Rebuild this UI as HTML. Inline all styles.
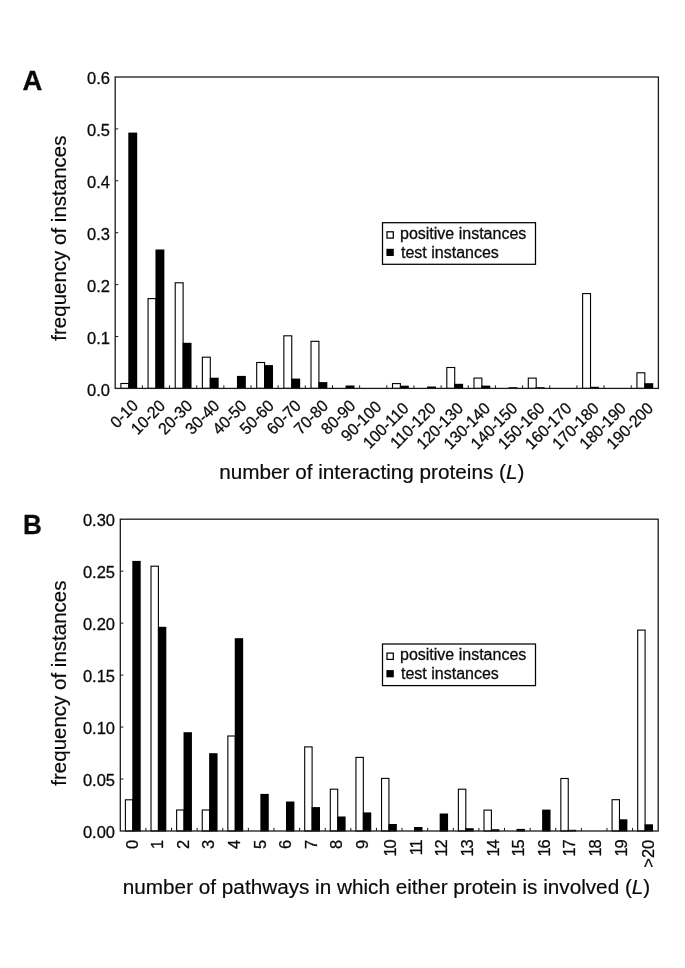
<!DOCTYPE html>
<html><head><meta charset="utf-8"><title>Figure</title>
<style>
html,body{margin:0;padding:0;background:#fff;}
body{width:685px;height:968px;overflow:hidden;font-family:"Liberation Sans",sans-serif;}
svg{display:block;font-family:"Liberation Sans",sans-serif;will-change:transform;}
text{fill:#0a0a0a;stroke:#0a0a0a;stroke-width:0.28px;}
</style></head><body>
<svg width="685" height="968" viewBox="0 0 685 968">
<rect x="0" y="0" width="685" height="968" fill="#ffffff"/>

<rect x="120.9" y="383.5" width="7.9" height="4.9" fill="#fff" stroke="#000" stroke-width="1.1"/>
<rect x="128.3" y="132.6" width="8.9" height="256.3" fill="#000"/>
<rect x="148.06" y="298.6" width="7.9" height="89.8" fill="#fff" stroke="#000" stroke-width="1.1"/>
<rect x="155.46" y="249.5" width="8.9" height="139.4" fill="#000"/>
<rect x="175.22" y="282.8" width="7.9" height="105.6" fill="#fff" stroke="#000" stroke-width="1.1"/>
<rect x="182.62" y="342.8" width="8.9" height="46.1" fill="#000"/>
<rect x="202.38" y="357.2" width="7.9" height="31.2" fill="#fff" stroke="#000" stroke-width="1.1"/>
<rect x="209.78" y="377.7" width="8.9" height="11.2" fill="#000"/>
<rect x="236.94" y="375.9" width="8.9" height="13" fill="#000"/>
<rect x="256.7" y="362.5" width="7.9" height="25.9" fill="#fff" stroke="#000" stroke-width="1.1"/>
<rect x="264.1" y="365.1" width="8.9" height="23.8" fill="#000"/>
<rect x="283.86" y="335.8" width="7.9" height="52.6" fill="#fff" stroke="#000" stroke-width="1.1"/>
<rect x="291.26" y="378.6" width="8.9" height="10.3" fill="#000"/>
<rect x="311.02" y="341.3" width="7.9" height="47.1" fill="#fff" stroke="#000" stroke-width="1.1"/>
<rect x="318.42" y="382.1" width="8.9" height="6.8" fill="#000"/>
<rect x="345.58" y="385.5" width="8.9" height="3.4" fill="#000"/>
<rect x="392.5" y="383.6" width="7.9" height="4.8" fill="#fff" stroke="#000" stroke-width="1.1"/>
<rect x="399.9" y="385.7" width="8.9" height="3.2" fill="#000"/>
<rect x="427.06" y="386.5" width="8.9" height="2.4" fill="#000"/>
<rect x="446.82" y="367.5" width="7.9" height="20.9" fill="#fff" stroke="#000" stroke-width="1.1"/>
<rect x="454.22" y="383.8" width="8.9" height="5.1" fill="#000"/>
<rect x="473.98" y="378.1" width="7.9" height="10.3" fill="#fff" stroke="#000" stroke-width="1.1"/>
<rect x="481.38" y="385.6" width="8.9" height="3.3" fill="#000"/>
<rect x="508.54" y="387.2" width="8.9" height="1.7" fill="#000"/>
<rect x="528.3" y="378.1" width="7.9" height="10.3" fill="#fff" stroke="#000" stroke-width="1.1"/>
<rect x="535.7" y="387.2" width="8.9" height="1.7" fill="#000"/>
<rect x="582.62" y="293.6" width="7.9" height="94.8" fill="#fff" stroke="#000" stroke-width="1.1"/>
<rect x="590.02" y="386.8" width="8.9" height="2.1" fill="#000"/>
<rect x="636.94" y="372.8" width="7.9" height="15.6" fill="#fff" stroke="#000" stroke-width="1.1"/>
<rect x="644.34" y="383.2" width="8.9" height="5.7" fill="#000"/>
<rect x="115.2" y="77" width="543.2" height="311.4" fill="none" stroke="#1a1a1a" stroke-width="1.3"/>
<text x="109.9" y="395.5" font-size="16.5" text-anchor="end">0.0</text>
<line x1="115.2" y1="336.5" x2="118.3" y2="336.5" stroke="#1a1a1a" stroke-width="1"/>
<text x="109.9" y="343.6" font-size="16.5" text-anchor="end">0.1</text>
<line x1="115.2" y1="284.6" x2="118.3" y2="284.6" stroke="#1a1a1a" stroke-width="1"/>
<text x="109.9" y="291.7" font-size="16.5" text-anchor="end">0.2</text>
<line x1="115.2" y1="232.7" x2="118.3" y2="232.7" stroke="#1a1a1a" stroke-width="1"/>
<text x="109.9" y="239.8" font-size="16.5" text-anchor="end">0.3</text>
<line x1="115.2" y1="180.8" x2="118.3" y2="180.8" stroke="#1a1a1a" stroke-width="1"/>
<text x="109.9" y="187.9" font-size="16.5" text-anchor="end">0.4</text>
<line x1="115.2" y1="128.9" x2="118.3" y2="128.9" stroke="#1a1a1a" stroke-width="1"/>
<text x="109.9" y="136" font-size="16.5" text-anchor="end">0.5</text>
<text x="109.9" y="84.1" font-size="16.5" text-anchor="end">0.6</text>
<line x1="142.36" y1="388.4" x2="142.36" y2="385.3" stroke="#1a1a1a" stroke-width="1"/>
<line x1="169.52" y1="388.4" x2="169.52" y2="385.3" stroke="#1a1a1a" stroke-width="1"/>
<line x1="196.68" y1="388.4" x2="196.68" y2="385.3" stroke="#1a1a1a" stroke-width="1"/>
<line x1="223.84" y1="388.4" x2="223.84" y2="385.3" stroke="#1a1a1a" stroke-width="1"/>
<line x1="251" y1="388.4" x2="251" y2="385.3" stroke="#1a1a1a" stroke-width="1"/>
<line x1="278.16" y1="388.4" x2="278.16" y2="385.3" stroke="#1a1a1a" stroke-width="1"/>
<line x1="305.32" y1="388.4" x2="305.32" y2="385.3" stroke="#1a1a1a" stroke-width="1"/>
<line x1="332.48" y1="388.4" x2="332.48" y2="385.3" stroke="#1a1a1a" stroke-width="1"/>
<line x1="359.64" y1="388.4" x2="359.64" y2="385.3" stroke="#1a1a1a" stroke-width="1"/>
<line x1="386.8" y1="388.4" x2="386.8" y2="385.3" stroke="#1a1a1a" stroke-width="1"/>
<line x1="413.96" y1="388.4" x2="413.96" y2="385.3" stroke="#1a1a1a" stroke-width="1"/>
<line x1="441.12" y1="388.4" x2="441.12" y2="385.3" stroke="#1a1a1a" stroke-width="1"/>
<line x1="468.28" y1="388.4" x2="468.28" y2="385.3" stroke="#1a1a1a" stroke-width="1"/>
<line x1="495.44" y1="388.4" x2="495.44" y2="385.3" stroke="#1a1a1a" stroke-width="1"/>
<line x1="522.6" y1="388.4" x2="522.6" y2="385.3" stroke="#1a1a1a" stroke-width="1"/>
<line x1="549.76" y1="388.4" x2="549.76" y2="385.3" stroke="#1a1a1a" stroke-width="1"/>
<line x1="576.92" y1="388.4" x2="576.92" y2="385.3" stroke="#1a1a1a" stroke-width="1"/>
<line x1="604.08" y1="388.4" x2="604.08" y2="385.3" stroke="#1a1a1a" stroke-width="1"/>
<line x1="631.24" y1="388.4" x2="631.24" y2="385.3" stroke="#1a1a1a" stroke-width="1"/>
<text transform="translate(139.18 406.6) rotate(-45) scale(0.955 1)" font-size="16.5" text-anchor="end">0-10</text>
<text transform="translate(166.24 406.9) rotate(-45) scale(0.955 1)" font-size="16.5" text-anchor="end">10-20</text>
<text transform="translate(193.4 406.9) rotate(-45) scale(0.955 1)" font-size="16.5" text-anchor="end">20-30</text>
<text transform="translate(220.56 406.9) rotate(-45) scale(0.955 1)" font-size="16.5" text-anchor="end">30-40</text>
<text transform="translate(247.72 406.9) rotate(-45) scale(0.955 1)" font-size="16.5" text-anchor="end">40-50</text>
<text transform="translate(274.88 406.9) rotate(-45) scale(0.955 1)" font-size="16.5" text-anchor="end">50-60</text>
<text transform="translate(302.04 406.9) rotate(-45) scale(0.955 1)" font-size="16.5" text-anchor="end">60-70</text>
<text transform="translate(329.2 406.9) rotate(-45) scale(0.955 1)" font-size="16.5" text-anchor="end">70-80</text>
<text transform="translate(356.36 406.9) rotate(-45) scale(0.955 1)" font-size="16.5" text-anchor="end">80-90</text>
<text transform="translate(382.42 407.8) rotate(-45) scale(0.955 1)" font-size="16.5" text-anchor="end">90-100</text>
<text transform="translate(409.78 409.4) rotate(-45) scale(0.955 1)" font-size="16.5" text-anchor="end">100-110</text>
<text transform="translate(436.94 409.4) rotate(-45) scale(0.955 1)" font-size="16.5" text-anchor="end">110-120</text>
<text transform="translate(464.1 409.4) rotate(-45) scale(0.955 1)" font-size="16.5" text-anchor="end">120-130</text>
<text transform="translate(491.26 409.4) rotate(-45) scale(0.955 1)" font-size="16.5" text-anchor="end">130-140</text>
<text transform="translate(518.42 409.4) rotate(-45) scale(0.955 1)" font-size="16.5" text-anchor="end">140-150</text>
<text transform="translate(545.58 409.4) rotate(-45) scale(0.955 1)" font-size="16.5" text-anchor="end">150-160</text>
<text transform="translate(572.74 409.4) rotate(-45) scale(0.955 1)" font-size="16.5" text-anchor="end">160-170</text>
<text transform="translate(599.9 409.4) rotate(-45) scale(0.955 1)" font-size="16.5" text-anchor="end">170-180</text>
<text transform="translate(627.06 409.4) rotate(-45) scale(0.955 1)" font-size="16.5" text-anchor="end">180-190</text>
<text transform="translate(654.22 409.4) rotate(-45) scale(0.955 1)" font-size="16.5" text-anchor="end">190-200</text>
<text transform="translate(22.5 89.8) scale(1.0 1.035)" font-size="27.5" font-weight="bold" fill="#000">A</text>
<text transform="translate(66 238.1) rotate(-90)" font-size="20.5" style="stroke-width:0.18px" text-anchor="middle">frequency of instances</text>
<text x="219.2" y="478.7" font-size="20.72" style="stroke-width:0.18px">number of interacting proteins (<tspan font-style="italic">L</tspan>)</text>
<rect x="382.5" y="222.7" width="153.0" height="41.6" fill="#fff" stroke="#000" stroke-width="1.25"/>
<rect x="387" y="231.8" width="6.3" height="6.3" fill="#fff" stroke="#000" stroke-width="1.25"/>
<rect x="386.4" y="248.8" width="7.4" height="7.2" fill="#000"/>
<text x="400" y="239.1" font-size="16">positive instances</text>
<text x="401" y="257.5" font-size="16">test instances</text>
<rect x="125.4" y="799.8" width="7.4" height="31.2" fill="#fff" stroke="#000" stroke-width="1.1"/>
<rect x="132.3" y="560.9" width="8.4" height="270.6" fill="#000"/>
<rect x="151.01" y="566.2" width="7.4" height="264.8" fill="#fff" stroke="#000" stroke-width="1.1"/>
<rect x="157.91" y="626.8" width="8.4" height="204.7" fill="#000"/>
<rect x="176.63" y="810" width="7.4" height="21" fill="#fff" stroke="#000" stroke-width="1.1"/>
<rect x="183.53" y="732.2" width="8.4" height="99.3" fill="#000"/>
<rect x="202.24" y="810" width="7.4" height="21" fill="#fff" stroke="#000" stroke-width="1.1"/>
<rect x="209.14" y="753.2" width="8.4" height="78.3" fill="#000"/>
<rect x="227.86" y="736" width="7.4" height="95" fill="#fff" stroke="#000" stroke-width="1.1"/>
<rect x="234.76" y="638.2" width="8.4" height="193.3" fill="#000"/>
<rect x="260.37" y="793.9" width="8.4" height="37.6" fill="#000"/>
<rect x="285.99" y="801.5" width="8.4" height="30" fill="#000"/>
<rect x="304.7" y="746.9" width="7.4" height="84.1" fill="#fff" stroke="#000" stroke-width="1.1"/>
<rect x="311.6" y="807.1" width="8.4" height="24.4" fill="#000"/>
<rect x="330.31" y="789.2" width="7.4" height="41.8" fill="#fff" stroke="#000" stroke-width="1.1"/>
<rect x="337.21" y="816.5" width="8.4" height="15" fill="#000"/>
<rect x="355.93" y="757.4" width="7.4" height="73.6" fill="#fff" stroke="#000" stroke-width="1.1"/>
<rect x="362.83" y="812.4" width="8.4" height="19.1" fill="#000"/>
<rect x="381.54" y="778.4" width="7.4" height="52.6" fill="#fff" stroke="#000" stroke-width="1.1"/>
<rect x="388.44" y="824" width="8.4" height="7.5" fill="#000"/>
<rect x="414.06" y="827" width="8.4" height="4.5" fill="#000"/>
<rect x="439.67" y="813.5" width="8.4" height="18" fill="#000"/>
<rect x="458.39" y="789.2" width="7.4" height="41.8" fill="#fff" stroke="#000" stroke-width="1.1"/>
<rect x="465.29" y="828.2" width="8.4" height="3.3" fill="#000"/>
<rect x="484" y="810.1" width="7.4" height="20.9" fill="#fff" stroke="#000" stroke-width="1.1"/>
<rect x="490.9" y="829.2" width="8.4" height="2.3" fill="#000"/>
<rect x="516.51" y="828.9" width="8.4" height="2.6" fill="#000"/>
<rect x="542.13" y="809.6" width="8.4" height="21.9" fill="#000"/>
<rect x="560.84" y="778.5" width="7.4" height="52.5" fill="#fff" stroke="#000" stroke-width="1.1"/>
<rect x="567.74" y="829.8" width="8.4" height="1.7" fill="#000"/>
<rect x="612.07" y="799.7" width="7.4" height="31.3" fill="#fff" stroke="#000" stroke-width="1.1"/>
<rect x="618.97" y="819.3" width="8.4" height="12.2" fill="#000"/>
<rect x="637.69" y="630.1" width="7.4" height="200.9" fill="#fff" stroke="#000" stroke-width="1.1"/>
<rect x="644.59" y="824.3" width="8.4" height="7.2" fill="#000"/>
<rect x="120.3" y="519.2" width="537.9" height="311.8" fill="none" stroke="#1a1a1a" stroke-width="1.3"/>
<text x="115" y="838.1" font-size="16.5" text-anchor="end">0.00</text>
<line x1="120.3" y1="779.03" x2="123.4" y2="779.03" stroke="#1a1a1a" stroke-width="1"/>
<text x="115" y="786.13" font-size="16.5" text-anchor="end">0.05</text>
<line x1="120.3" y1="727.07" x2="123.4" y2="727.07" stroke="#1a1a1a" stroke-width="1"/>
<text x="115" y="734.17" font-size="16.5" text-anchor="end">0.10</text>
<line x1="120.3" y1="675.1" x2="123.4" y2="675.1" stroke="#1a1a1a" stroke-width="1"/>
<text x="115" y="682.2" font-size="16.5" text-anchor="end">0.15</text>
<line x1="120.3" y1="623.13" x2="123.4" y2="623.13" stroke="#1a1a1a" stroke-width="1"/>
<text x="115" y="630.23" font-size="16.5" text-anchor="end">0.20</text>
<line x1="120.3" y1="571.17" x2="123.4" y2="571.17" stroke="#1a1a1a" stroke-width="1"/>
<text x="115" y="578.27" font-size="16.5" text-anchor="end">0.25</text>
<text x="115" y="526.3" font-size="16.5" text-anchor="end">0.30</text>
<line x1="145.91" y1="831" x2="145.91" y2="827.9" stroke="#1a1a1a" stroke-width="1"/>
<line x1="171.53" y1="831" x2="171.53" y2="827.9" stroke="#1a1a1a" stroke-width="1"/>
<line x1="197.14" y1="831" x2="197.14" y2="827.9" stroke="#1a1a1a" stroke-width="1"/>
<line x1="222.76" y1="831" x2="222.76" y2="827.9" stroke="#1a1a1a" stroke-width="1"/>
<line x1="248.37" y1="831" x2="248.37" y2="827.9" stroke="#1a1a1a" stroke-width="1"/>
<line x1="273.99" y1="831" x2="273.99" y2="827.9" stroke="#1a1a1a" stroke-width="1"/>
<line x1="299.6" y1="831" x2="299.6" y2="827.9" stroke="#1a1a1a" stroke-width="1"/>
<line x1="325.21" y1="831" x2="325.21" y2="827.9" stroke="#1a1a1a" stroke-width="1"/>
<line x1="350.83" y1="831" x2="350.83" y2="827.9" stroke="#1a1a1a" stroke-width="1"/>
<line x1="376.44" y1="831" x2="376.44" y2="827.9" stroke="#1a1a1a" stroke-width="1"/>
<line x1="402.06" y1="831" x2="402.06" y2="827.9" stroke="#1a1a1a" stroke-width="1"/>
<line x1="427.67" y1="831" x2="427.67" y2="827.9" stroke="#1a1a1a" stroke-width="1"/>
<line x1="453.29" y1="831" x2="453.29" y2="827.9" stroke="#1a1a1a" stroke-width="1"/>
<line x1="478.9" y1="831" x2="478.9" y2="827.9" stroke="#1a1a1a" stroke-width="1"/>
<line x1="504.51" y1="831" x2="504.51" y2="827.9" stroke="#1a1a1a" stroke-width="1"/>
<line x1="530.13" y1="831" x2="530.13" y2="827.9" stroke="#1a1a1a" stroke-width="1"/>
<line x1="555.74" y1="831" x2="555.74" y2="827.9" stroke="#1a1a1a" stroke-width="1"/>
<line x1="581.36" y1="831" x2="581.36" y2="827.9" stroke="#1a1a1a" stroke-width="1"/>
<line x1="606.97" y1="831" x2="606.97" y2="827.9" stroke="#1a1a1a" stroke-width="1"/>
<line x1="632.59" y1="831" x2="632.59" y2="827.9" stroke="#1a1a1a" stroke-width="1"/>
<text transform="translate(137.51 839.7) rotate(-90)" font-size="16.5" text-anchor="end">0</text>
<text transform="translate(163.12 839.7) rotate(-90)" font-size="16.5" text-anchor="end">1</text>
<text transform="translate(188.74 839.7) rotate(-90)" font-size="16.5" text-anchor="end">2</text>
<text transform="translate(214.35 839.7) rotate(-90)" font-size="16.5" text-anchor="end">3</text>
<text transform="translate(239.96 839.7) rotate(-90)" font-size="16.5" text-anchor="end">4</text>
<text transform="translate(265.58 839.7) rotate(-90)" font-size="16.5" text-anchor="end">5</text>
<text transform="translate(291.19 839.7) rotate(-90)" font-size="16.5" text-anchor="end">6</text>
<text transform="translate(316.81 839.7) rotate(-90)" font-size="16.5" text-anchor="end">7</text>
<text transform="translate(342.42 839.7) rotate(-90)" font-size="16.5" text-anchor="end">8</text>
<text transform="translate(368.04 839.7) rotate(-90)" font-size="16.5" text-anchor="end">9</text>
<text transform="translate(396.05 840.3) rotate(-90)" letter-spacing="-1.1" font-size="16.5" text-anchor="end">10</text>
<text transform="translate(421.66 840.3) rotate(-90)" letter-spacing="-1.1" font-size="16.5" text-anchor="end">11</text>
<text transform="translate(447.28 840.3) rotate(-90)" letter-spacing="-1.1" font-size="16.5" text-anchor="end">12</text>
<text transform="translate(472.89 840.3) rotate(-90)" letter-spacing="-1.1" font-size="16.5" text-anchor="end">13</text>
<text transform="translate(498.51 840.3) rotate(-90)" letter-spacing="-1.1" font-size="16.5" text-anchor="end">14</text>
<text transform="translate(524.12 840.3) rotate(-90)" letter-spacing="-1.1" font-size="16.5" text-anchor="end">15</text>
<text transform="translate(549.74 840.3) rotate(-90)" letter-spacing="-1.1" font-size="16.5" text-anchor="end">16</text>
<text transform="translate(575.35 840.3) rotate(-90)" letter-spacing="-1.1" font-size="16.5" text-anchor="end">17</text>
<text transform="translate(600.96 840.3) rotate(-90)" letter-spacing="-1.1" font-size="16.5" text-anchor="end">18</text>
<text transform="translate(626.58 840.3) rotate(-90)" letter-spacing="-1.1" font-size="16.5" text-anchor="end">19</text>
<text transform="translate(654.29 839.7) rotate(-90)" font-size="16.5" text-anchor="end">&gt;20</text>
<text transform="translate(23 534) scale(0.95 1.0)" font-size="27.5" font-weight="bold" fill="#000">B</text>
<text transform="translate(66 683.1) rotate(-90)" font-size="20.5" style="stroke-width:0.18px" text-anchor="middle">frequency of instances</text>
<text x="122.8" y="894" font-size="20.72" style="stroke-width:0.18px">number of pathways in which either protein is involved (<tspan font-style="italic">L</tspan>)</text>
<rect x="382.5" y="644" width="153.0" height="41.6" fill="#fff" stroke="#000" stroke-width="1.25"/>
<rect x="387" y="653.1" width="6.3" height="6.3" fill="#fff" stroke="#000" stroke-width="1.25"/>
<rect x="386.4" y="670.1" width="7.4" height="7.2" fill="#000"/>
<text x="400" y="660.4" font-size="16">positive instances</text>
<text x="401" y="678.8" font-size="16">test instances</text>
</svg>
</body></html>
